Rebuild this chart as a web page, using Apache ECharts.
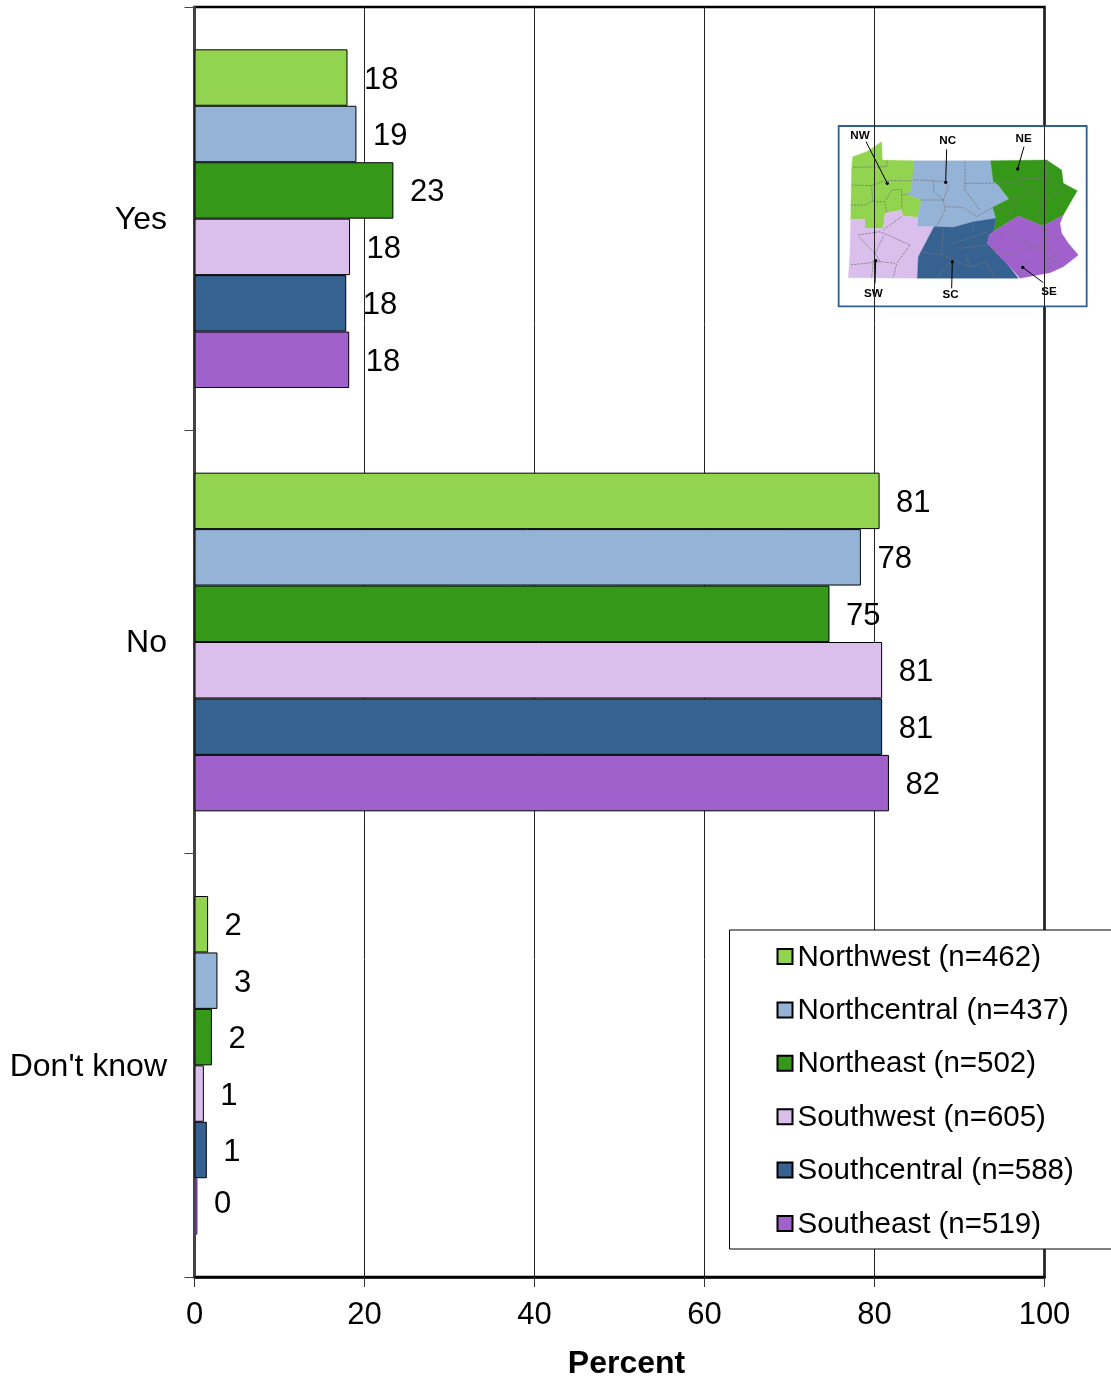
<!DOCTYPE html>
<html><head><meta charset="utf-8">
<style>html,body{margin:0;padding:0;background:#fff}#c{width:1111px;height:1380px}</style>
<script src="https://cdn.jsdelivr.net/npm/echarts@6/dist/echarts.min.js"></script>
</head><body><div id="c"></div>
<script>
const categories = ["Yes", "No", "Don't know"];
const northwest = [18.0, 80.6, 1.6];
const northcentral = [19.05, 78.4, 2.7];
const northeast = [23.4, 74.7, 2.05];
const southwest = [18.3, 80.9, 1.1];
const southcentral = [17.85, 80.9, 1.45];
const southeast = [18.2, 81.7, 0.35];
const seriesNames = ["Northwest (n=462)", "Northcentral (n=437)", "Northeast (n=502)", "Southwest (n=605)", "Southcentral (n=588)", "Southeast (n=519)"];
const colors = ["#92D34F", "#95B3D7", "#359819", "#DABFED", "#356291", "#A061CD"];
const allValues = [northwest, northcentral, northeast, southwest, southcentral, southeast];
const FONT = '"Liberation Sans", Arial, sans-serif';

const series = allValues.map((vals, i) => ({
  name: seriesNames[i], type: 'bar', barGap: 0, barCategoryGap: '20%',
  itemStyle: {color: colors[i], borderColor: '#000', borderWidth: 1},
  label: {show: true, position: 'right', distance: 16.5, offset: [0, 2.5], color: '#000', fontFamily: FONT, fontSize: 31,
          formatter: p => String(Math.round(p.value))},
  data: vals.map(v => v < 0.5 ? {value: v, itemStyle: {color: '#6b3f8a', borderColor: '#5a3a78'}, label: {offset: [0, -2]}} : v)
}));

// Inset locator map, in zoomed-crop coordinates (scaled by the group transform)
const regions = [
 {c: colors[0], p: [[68,110],[110,95],[155,65],[157,120],[252,122],[250,180],[245,210],[232,222],[275,240],[262,292],[218,288],[215,270],[165,280],[160,325],[105,325],[105,298],[62,298],[65,140]]},
 {c: colors[1], p: [[252,122],[482,122],[490,185],[505,195],[537,237],[488,262],[498,295],[430,305],[370,322],[312,320],[262,320],[262,292],[275,240],[232,222],[245,210]]},
 {c: colors[2], p: [[482,122],[650,120],[695,150],[700,190],[742,212],[720,250],[700,285],[640,318],[565,288],[530,310],[490,335],[498,295],[488,262],[537,237],[505,195],[490,185]]},
 {c: colors[3], p: [[62,298],[105,298],[105,325],[160,325],[165,280],[215,270],[218,288],[262,292],[262,320],[312,320],[265,410],[262,475],[55,473],[60,400]]},
 {c: colors[4], p: [[312,320],[370,322],[430,305],[498,295],[490,335],[478,345],[472,370],[500,400],[530,430],[565,475],[262,475],[265,410]]},
 {c: colors[5], p: [[478,345],[490,335],[530,310],[565,288],[640,318],[700,285],[690,310],[695,340],[715,370],[745,405],[700,440],[660,458],[570,475],[530,430],[500,400],[472,370]]}
];
const counties = [
 [[65,195],[125,197],[165,182],[245,182]],[[125,197],[128,245],[165,245],[185,210],[215,208],[215,265]],[[62,255],[105,255],[125,245]],[[70,142],[170,140],[172,122]],[[165,250],[170,278]],[[218,225],[235,222]],
 [[250,180],[310,182],[312,215],[340,240],[355,200],[345,185],[310,182]],[[270,240],[340,240],[345,270],[320,318]],[[345,260],[400,262],[440,290],[488,262]],[[405,125],[405,210],[450,270]],[[405,190],[490,190]],
 [[495,185],[560,190],[565,175],[650,175],[655,122]],[[650,175],[695,200]],[[545,235],[610,215],[635,245],[700,210]],[[555,235],[535,305]],[[490,260],[530,270]],[[635,245],[620,290]],[[565,185],[610,215]],
 [[85,345],[150,335],[185,350],[240,375]],[[85,350],[135,400],[160,350]],[[135,400],[150,425],[60,435]],[[160,330],[215,290]],[[240,375],[200,430],[190,473]],[[130,420],[125,473]],[[150,425],[195,430]],
 [[340,325],[335,400],[365,420],[420,440],[470,425],[490,470]],[[270,395],[335,405]],[[365,420],[320,473]],[[370,370],[475,335]],[[390,385],[480,375],[500,400]],[[420,440],[405,400]],[[430,310],[430,335]],
 [[515,335],[515,385],[530,405],[640,370],[660,345]],[[530,335],[640,400],[700,440]],[[620,310],[690,360]],[[595,420],[570,470]],[[640,370],[680,400],[650,455]]
];
const leaders = [
 {t:'NW', lx:90, ly:48, a:[108,65], b:[172,190]},
 {t:'NC', lx:353, ly:63, a:[350,88], b:[347,187]},
 {t:'NE', lx:581, ly:55, a:[582,80], b:[563,147]},
 {t:'SW', lx:130, ly:522, a:[135,490], b:[137,422]},
 {t:'SC', lx:362, ly:523, a:[365,505], b:[367,425]},
 {t:'SE', lx:657, ly:515, a:[640,488], b:[578,442]}
];
const mapChildren = [
 {type:'rect', shape:{x:26,y:18,width:744,height:541}, style:{fill:'#fff', stroke:'#2F6098', lineWidth:5.5}},
 ...regions.map(r => ({type:'polygon', shape:{points:r.p}, style:{fill:r.c, stroke:r.c, lineWidth:1}})),
 ...counties.map(p => ({type:'polyline', shape:{points:p}, style:{fill:null, stroke:'#777', lineWidth:2.6, lineDash:[7,3], opacity:0.85}})),
 ...leaders.flatMap(l => [
   {type:'line', shape:{x1:l.a[0],y1:l.a[1],x2:l.b[0],y2:l.b[1]}, style:{stroke:'#000', lineWidth:3}},
   {type:'circle', shape:{cx:l.b[0],cy:l.b[1],r:5}, style:{fill:'#000'}},
   {type:'text', x:l.lx, y:l.ly, style:{text:l.t, fill:'#000', font:'bold 35px '+FONT, align:'center', verticalAlign:'middle'}}
 ])
];

const chart = echarts.init(document.getElementById('c'), null, {renderer: 'canvas'});
chart.setOption({
  animation: false,
  backgroundColor: '#fff',
  grid: {left: 194.5, right: 66.5, top: 7, bottom: 103, show: true, outerBoundsMode: 'none', borderColor: '#000', borderWidth: 2.5, backgroundColor: 'transparent'},
  xAxis: {
    type: 'value', min: 0, max: 100, interval: 20,
    name: 'Percent', nameLocation: 'middle', nameGap: 71,
    nameTextStyle: {fontFamily: FONT, fontSize: 32, fontWeight: 'bold', color: '#000', padding: [0, 0, 0, 14]},
    axisLine: {show: true, lineStyle: {color: '#000', width: 2.5}},
    axisTick: {show: true, length: 10, lineStyle: {color: '#333', width: 1}},
    axisLabel: {fontFamily: FONT, fontSize: 31, color: '#000', margin: 23},
    splitLine: {show: true, lineStyle: {color: '#222', width: 1}}
  },
  yAxis: {
    type: 'category', inverse: true, data: categories,
    axisLine: {show: true, lineStyle: {color: '#444', width: 2.5}},
    axisTick: {show: true, length: 10, lineStyle: {color: '#444', width: 1}},
    axisLabel: {margin: 27.5, formatter: n => '{a|' + n + '}',
      rich: {a: {fontFamily: FONT, fontSize: 32, color: '#000', lineHeight: 36, padding: [3, 0, 0, 0]}}},
    splitLine: {show: false}
  },
  legend: {
    orient: 'vertical', left: 729.5, top: 930, selectedMode: false, icon: 'rect',
    padding: [10.5, 120, 9.5, 47], backgroundColor: '#fff', borderColor: '#000', borderWidth: 1, borderRadius: 0,
    itemWidth: 15, itemHeight: 15, itemGap: 21.4, align: 'left',
    formatter: n => '{a|' + n + '}',
    textStyle: {fontFamily: FONT, fontSize: 29.5, color: '#000', rich: {a: {fontFamily: FONT, fontSize: 29.5, color: '#000', lineHeight: 33, padding: [2, 0, 0, 0]}}},
    data: seriesNames
  },
  series: series,
  graphic: [{type: 'group', x: 830, y: 120, scaleX: 1/3, scaleY: 1/3, z: 100, children: mapChildren}]
});
</script></body></html>
